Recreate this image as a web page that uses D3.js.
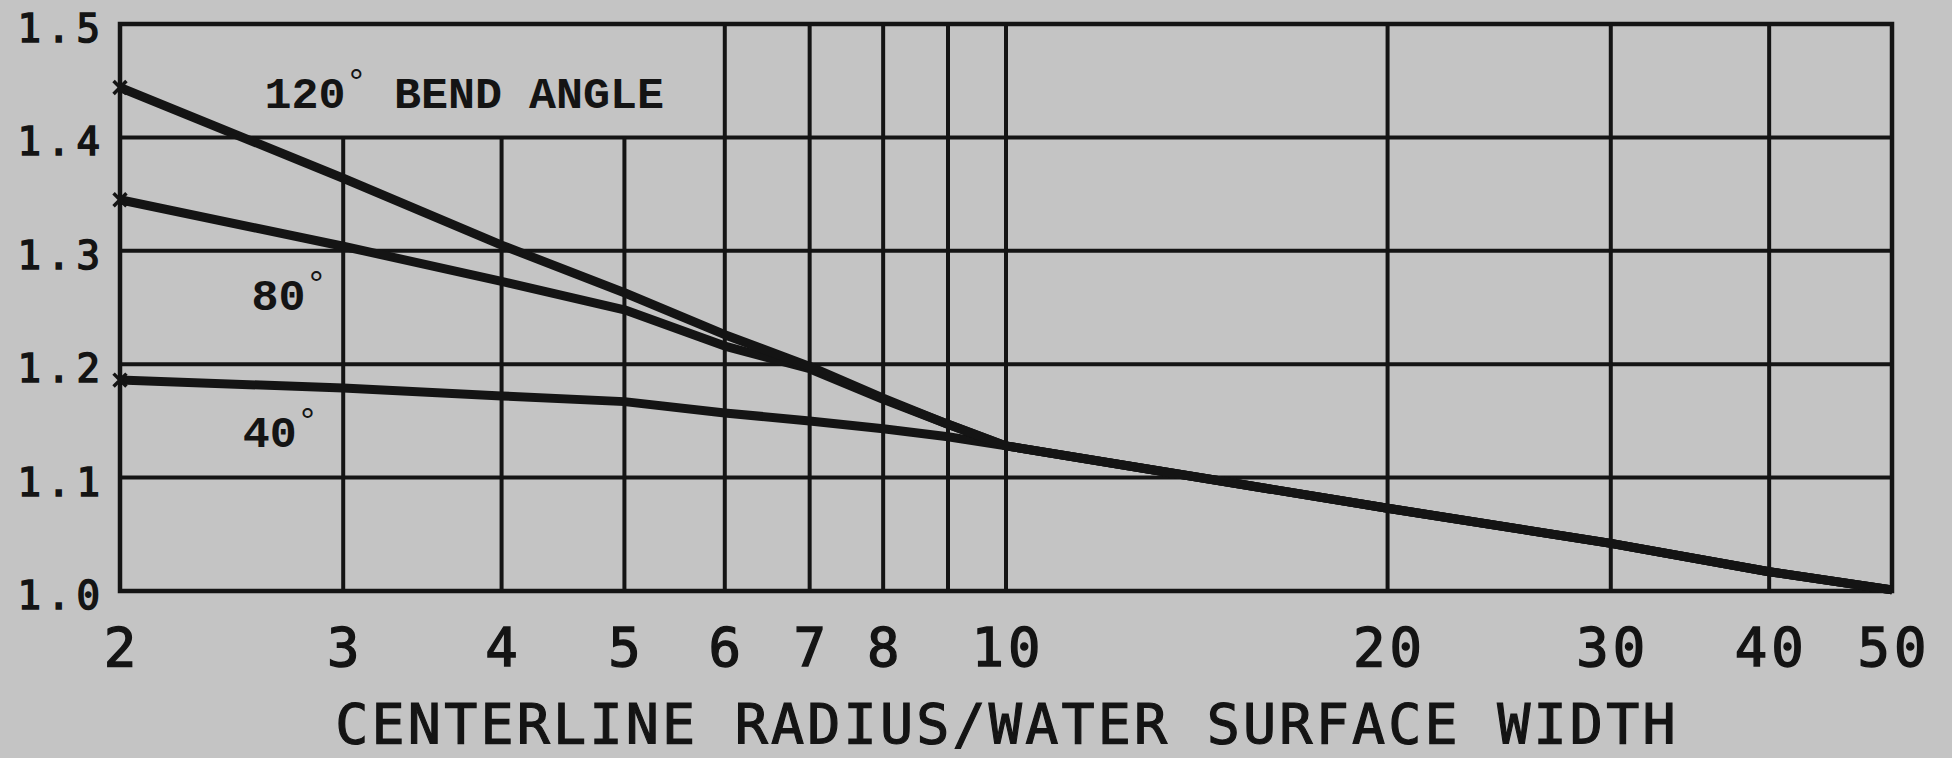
<!DOCTYPE html>
<html>
<head>
	<meta charset="utf-8">
	<script src="https://d3js.org/d3.v7.min.js"></script>
	<style>
		body { margin: 0; background: #c4c4c4; }
		svg { display: block; }
	</style>
</head>
<body>
	<div id='chart'></div>

	<script type="text/javascript">
		// values
		const radius = [2, 3, 4, 5, 6, 7, 8, 9, 10, 20, 30, 40, 50]
		const bend120 = [1.444, 1.364, 1.305, 1.263, 1.226, 1.198, 1.170, 1.147, 1.128, 1.073, 1.042, 1.017, 1.001]
		const bend80 = [1.345, 1.304, 1.273, 1.248, 1.216, 1.196, 1.169, 1.147, 1.128, 1.073, 1.042, 1.017, 1.001]
		const bend40 = [1.186, 1.179, 1.172, 1.167, 1.157, 1.150, 1.143, 1.136, 1.128, 1.073, 1.042, 1.017, 1.001]

		const xGrid = [3, 4, 5, 6, 7, 8, 9, 10, 20, 30, 40]
		const xLabels = [2, 3, 4, 5, 6, 7, 8, 10, 20, 30, 40, 50]
		const yGrid = [1.1, 1.2, 1.3, 1.4]
		const yLabels = ['1.0', '1.1', '1.2', '1.3', '1.4', '1.5']
		const xTitle = 'CENTERLINE RADIUS/WATER SURFACE WIDTH'
		const curveLabels = [
			{angle: '120', rest: ' BEND ANGLE', x: 2.6, y: 1.426},
			{angle: '80', rest: '', x: 2.54, y: 1.248},
			{angle: '40', rest: '', x: 2.5, y: 1.127}
		]

		const w = 1952, h = 758
		const ink = '#141414'

		const svg = d3.select('#chart').append('svg')
			.attr('width', w)
			.attr('height', h)

		svg.append('rect')
			.attr('width', w)
			.attr('height', h)
			.style('fill', '#c4c4c4')

		const sX = d3.scaleLog().domain([2, 50]).range([120, 1892])
		const sY = d3.scaleLinear().domain([1.0, 1.5]).range([591, 24])

		// grid
		const grid = svg.append('g').attr('class', 'grid')
			.style('stroke', ink)
			.style('stroke-width', 4)

		grid.selectAll('line.h')
			.data(yGrid)
			.enter()
			.append('line')
			.attr('class', 'h')
			.attr('x1', sX(2))
			.attr('x2', sX(50))
			.attr('y1', d => sY(d))
			.attr('y2', d => sY(d))

		// the top row is left open behind the label for 3, 4 and 5
		grid.selectAll('line.v')
			.data(xGrid)
			.enter()
			.append('line')
			.attr('class', 'v')
			.attr('x1', d => sX(d))
			.attr('x2', d => sX(d))
			.attr('y1', sY(1.0))
			.attr('y2', d => d <= 5 ? sY(1.4) : sY(1.5))

		svg.append('rect')
			.attr('x', sX(2))
			.attr('y', sY(1.5))
			.attr('width', sX(50) - sX(2))
			.attr('height', sY(1.0) - sY(1.5))
			.style('fill', 'none')
			.style('stroke', ink)
			.style('stroke-width', 4.5)

		// curves
		const series = [bend40, bend80, bend120]
		const line = d3.line()
			.x((d, i) => sX(radius[i]))
			.y(d => sY(d))

		svg.append('g').selectAll('path')
			.data(series)
			.enter()
			.append('path')
			.attr('d', d => line(d))
			.style('fill', 'none')
			.style('stroke', ink)
			.style('stroke-width', 9)
			.style('stroke-linejoin', 'round')

		const cross = d3.symbol().type(d3.symbolTimes || d3.symbolCross).size(110)
		svg.append('g').selectAll('path')
			.data(series)
			.enter()
			.append('path')
			.attr('transform', d => 'translate(' + sX(radius[0]) + ',' + sY(d[0]) + ')')
			.attr('d', cross)
			.style('fill', 'none')
			.style('stroke', ink)
			.style('stroke-width', 3.5)

		// tick labels
		svg.append('g').selectAll('text')
			.data(yLabels)
			.enter()
			.append('text')
			.attr('x', 106)
			.attr('y', d => sY(+d) + 18)
			.attr('text-anchor', 'end')
			.style('font-family', 'DejaVu Sans Mono')
			.style('font-size', '39px')
			.style('letter-spacing', '6px')
			.style('fill', ink)
			.style('stroke', ink)
			.style('stroke-width', 1.6)
			.text(d => d)

		svg.append('g').selectAll('text')
			.data(xLabels)
			.enter()
			.append('text')
			.attr('x', d => sX(d) + 2)
			.attr('y', 666)
			.attr('text-anchor', 'middle')
			.style('font-family', 'DejaVu Sans Mono')
			.style('font-size', '54px')
			.style('letter-spacing', '4px')
			.style('fill', ink)
			.style('stroke', ink)
			.style('stroke-width', 1.4)
			.text(d => d)

		svg.append('text')
			.attr('x', 1007)
			.attr('y', 743)
			.attr('text-anchor', 'middle')
			.style('font-family', 'DejaVu Sans Mono')
			.style('font-size', '55px')
			.style('letter-spacing', '3.2px')
			.style('fill', ink)
			.style('stroke', ink)
			.style('stroke-width', 1.2)
			.text(xTitle)

		// curve labels
		const lab = svg.append('g').selectAll('text')
			.data(curveLabels)
			.enter()
			.append('text')
			.attr('x', d => sX(d.x))
			.attr('y', d => sY(d.y))
			.style('font-family', 'Liberation Mono')
			.style('font-weight', 'bold')
			.style('font-size', '45px')
			.style('fill', ink)
			.style('white-space', 'pre')
		lab.append('tspan').text(d => d.angle)
		lab.append('tspan')
			.attr('dy', -14)
			.style('font-size', '36px')
			.style('font-weight', 'normal')
			.text('°')
		lab.append('tspan')
			.attr('dy', 14)
			.text(d => d.rest)
	</script>
</body>
</html>
